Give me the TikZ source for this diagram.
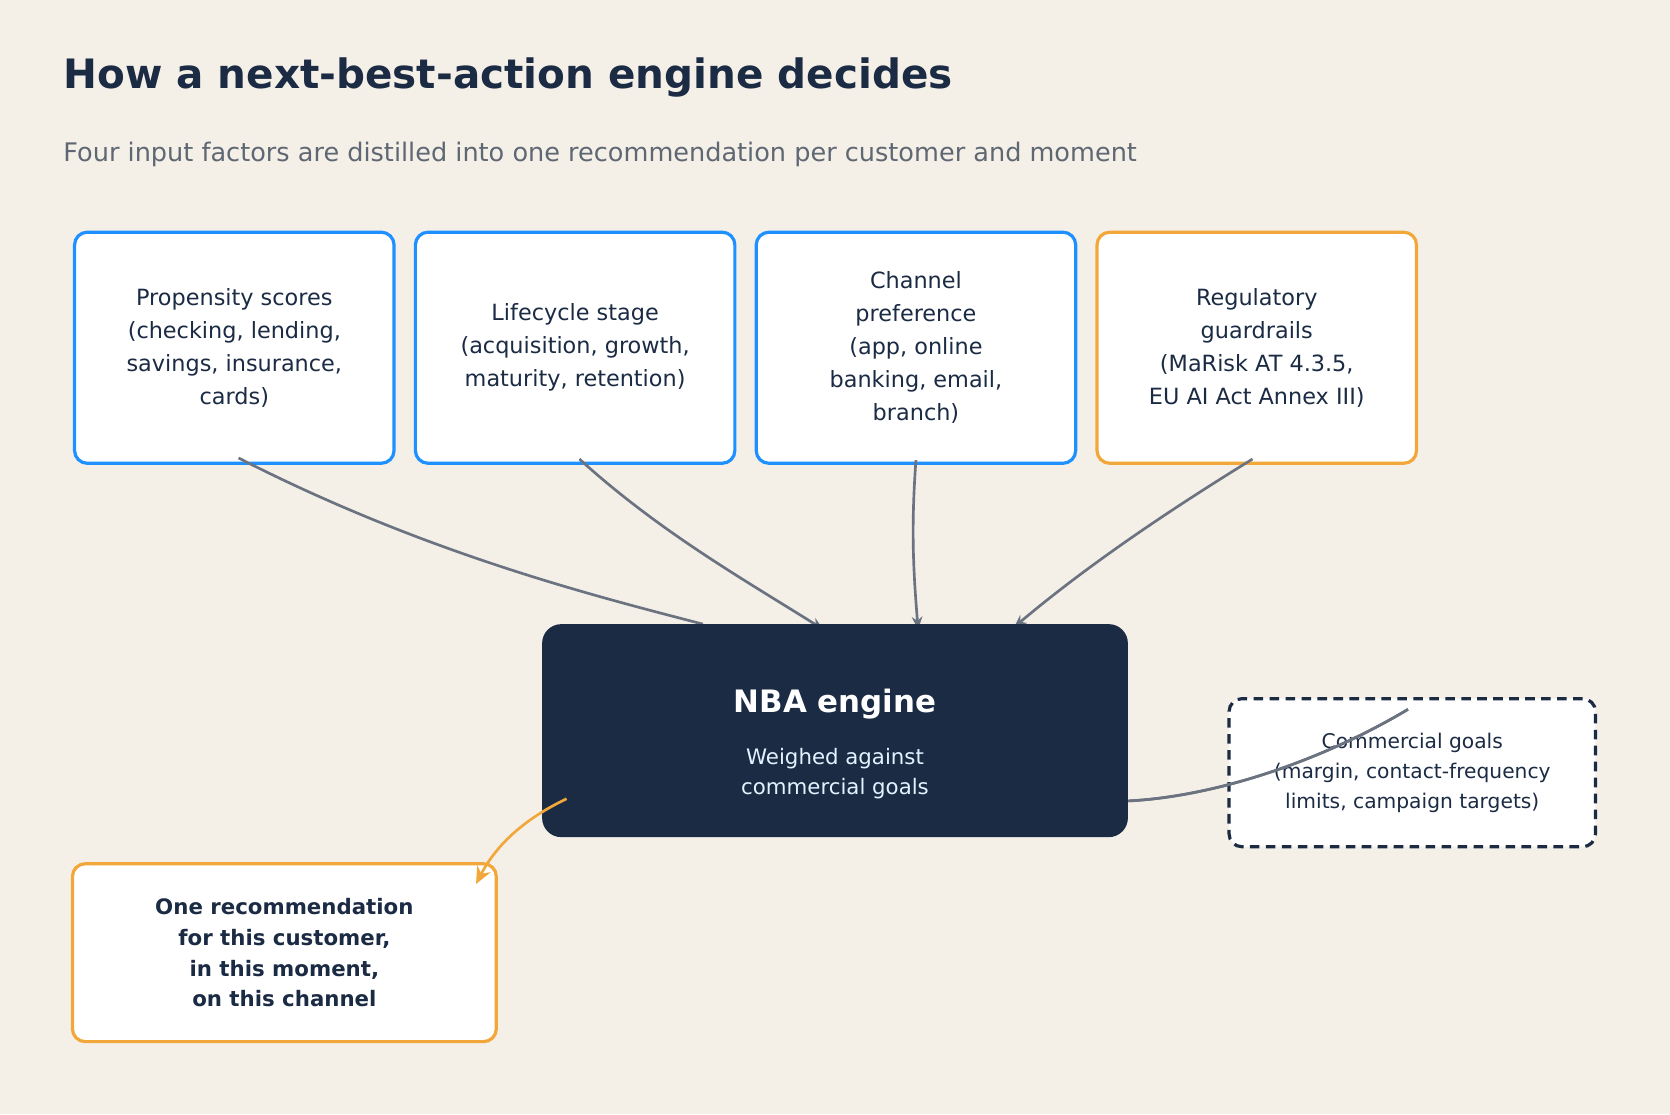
\documentclass[tikz,border=0pt]{standalone}
\usepackage{fontspec}
\setmainfont{DejaVu Sans}
\usetikzlibrary{arrows.meta}
\definecolor{bg}{HTML}{F4F0E8}
\definecolor{navy}{HTML}{1B2B44}
\definecolor{blu}{HTML}{1E90FF}
\definecolor{org}{HTML}{F2A73B}
\definecolor{gr}{HTML}{6B7280}
\definecolor{sub}{HTML}{5F6773}
\begin{document}
\begin{tikzpicture}[x=1pt,y=-1pt,
 box/.style={draw=#1,line width=3pt,fill=white,rounded corners=12pt,align=center,text=navy,font=\fontsize{21}{31}\selectfont,inner sep=0},
 con/.style={draw=gr,line width=2.5pt,-{Stealth[length=12pt,width=10pt]}}]
\useasboundingbox[fill=bg] (0,0) rectangle (1568,1046);
\node[anchor=west,text=navy,font=\fontsize{38}{44}\selectfont\bfseries] (t) at (56,73) {How a next-best-action engine decides};
\node[anchor=west,text=sub,font=\fontsize{24}{30}\selectfont] (s) at (56,145) {Four input factors are distilled into one recommendation per customer and moment};
\node[box=blu,minimum width=300pt,minimum height=217pt] (b1) at (220,326.5) {Propensity scores\\(checking, lending,\\savings, insurance,\\cards)};
\node[box=blu,minimum width=300pt,minimum height=217pt] (b2) at (540,326.5) {Lifecycle stage\\(acquisition, growth,\\maturity, retention)};
\node[box=blu,minimum width=300pt,minimum height=217pt] (b3) at (860,326.5) {Channel\\preference\\(app, online\\banking, email,\\branch)};
\node[box=org,minimum width=300pt,minimum height=217pt] (b4) at (1180,326.5) {Regulatory\\guardrails\\(MaRisk AT 4.3.5,\\EU AI Act Annex III)};
\node[box=navy,dashed,dash pattern=on 9pt off 6pt,minimum width=344pt,minimum height=139pt,font=\fontsize{19}{28}\selectfont] (cg) at (1326,725.5) {Commercial goals\\(margin, contact-frequency\\limits, campaign targets)};
\coordinate (c1) at (224,430);
\coordinate (c2) at (544,431);
\coordinate (c3) at (860,432);
\coordinate (c4) at (1176,431);
\coordinate (c5) at (1322,666);
\coordinate (o1) at (532,750);
\draw[con,-] (c1) .. controls (400,520) and (560,560) .. (660,586);
\draw[con] (c2) .. controls (620,500) and (700,545) .. (773,591);
\draw[con] (c3) .. controls (855,500) and (858,540) .. (862,591);
\draw[con] (c4) .. controls (1080,490) and (1010,540) .. (952,589);
\draw[con,-] (c5) .. controls (1240,715) and (1140,748) .. (1059,752);
\node[fill=navy,rounded corners=18pt,minimum width=550pt,minimum height=200pt] (e) at (784,686) {};
\node[text=white,font=\fontsize{29}{34}\selectfont\bfseries] (et) at (784,661) {NBA engine};
\node[text=white!88!blu,align=center,font=\fontsize{20}{28}\selectfont] (es) at (784,726) {Weighed against\\commercial goals};
\draw[con,-] (c5) .. controls (1240,715) and (1140,748) .. (1060,752);
\node[box=org,minimum width=398pt,minimum height=167pt,font=\fontsize{20}{29}\selectfont\bfseries] (out) at (267,894.5) {One recommendation\\for this customer,\\in this moment,\\on this channel};
\draw[con,draw=org,-{Stealth[length=16pt,width=14pt]}] (o1) .. controls (490,770) and (465,795) .. (447,830);
\end{tikzpicture}
\end{document}
